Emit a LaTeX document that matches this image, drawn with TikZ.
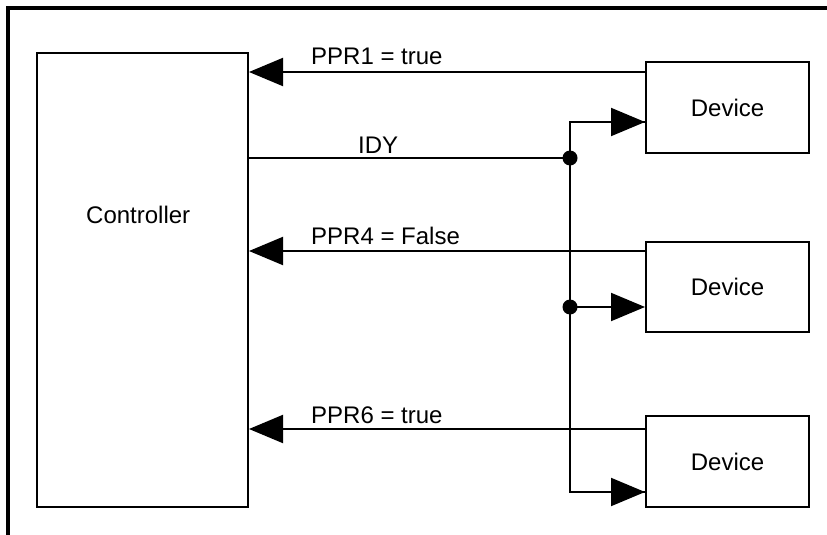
\documentclass[tikz,border=0pt]{standalone}
\usepackage{fontspec}
\setmainfont{Liberation Sans}
\usetikzlibrary{arrows.meta}
\begin{document}
\begin{tikzpicture}[x=1pt,y=-1pt,
  box/.style={draw,line width=2pt,rectangle,inner sep=0pt},
  wire/.style={line width=2pt},
  arr/.style={line width=2pt,-{Triangle[length=34pt,width=28pt]}},
  lbl/.style={anchor=base west,inner sep=0pt,font=\fontsize{24}{28}\selectfont},
  dot/.style={circle,fill=black,inner sep=0pt,minimum size=15pt}]
\useasboundingbox (0,0) rectangle (827,535);
\draw[line width=3.5pt] (8,535) -- (8,8) -- (827,8);
% boxes
\node[box,minimum width=211pt,minimum height=454pt] (ctrl) at (142.5,280) {};
\node[lbl] (ctrltext) at (86,223) {Controller};
\node[box,minimum width=163pt,minimum height=91pt,font=\fontsize{24}{28}\selectfont] (d1) at (727.5,107.5) {Device};
\node[box,minimum width=163pt,minimum height=90pt,font=\fontsize{24}{28}\selectfont] (d2) at (727.5,287) {Device};
\node[box,minimum width=163pt,minimum height=91pt,font=\fontsize{24}{28}\selectfont] (d3) at (727.5,461.5) {Device};
% coordinates
\coordinate (p1) at (646,72);
\coordinate (p4) at (646,251);
\coordinate (p6) at (646,429);
\coordinate (bt) at (570,122);
\coordinate (bb) at (570,492);
% PPR arrows
\draw[arr] (p1 -| d1.west) -- (p1 -| ctrl.east);
\draw[arr] (p4 -| d2.west) -- (p4 -| ctrl.east);
\draw[arr] (p6 -| d3.west) -- (p6 -| ctrl.east);
% IDY bus
\node[dot] (j1) at (570,158) {};
\node[dot] (j2) at (570,307) {};
\draw[wire] (j1 -| ctrl.east) -- (j1.center);
\draw[wire,line join=miter] (bt -| d1.west) -- (bt) -- (bb) -- (bb -| d3.west);
\draw[arr] (bt) -- (bt -| d1.west);
\draw[arr] (j2.center) -- (j2 -| d2.west);
\draw[arr] (bb) -- (bb -| d3.west);
% labels
\node[lbl] (l1) at (311,64) {PPR1 = true};
\node[lbl] (l2) at (358,153) {IDY};
\node[lbl] (l3) at (311,244.5) {PPR4 = False};
\node[lbl] (l4) at (311,423.5) {PPR6 = true};
\end{tikzpicture}
\end{document}
